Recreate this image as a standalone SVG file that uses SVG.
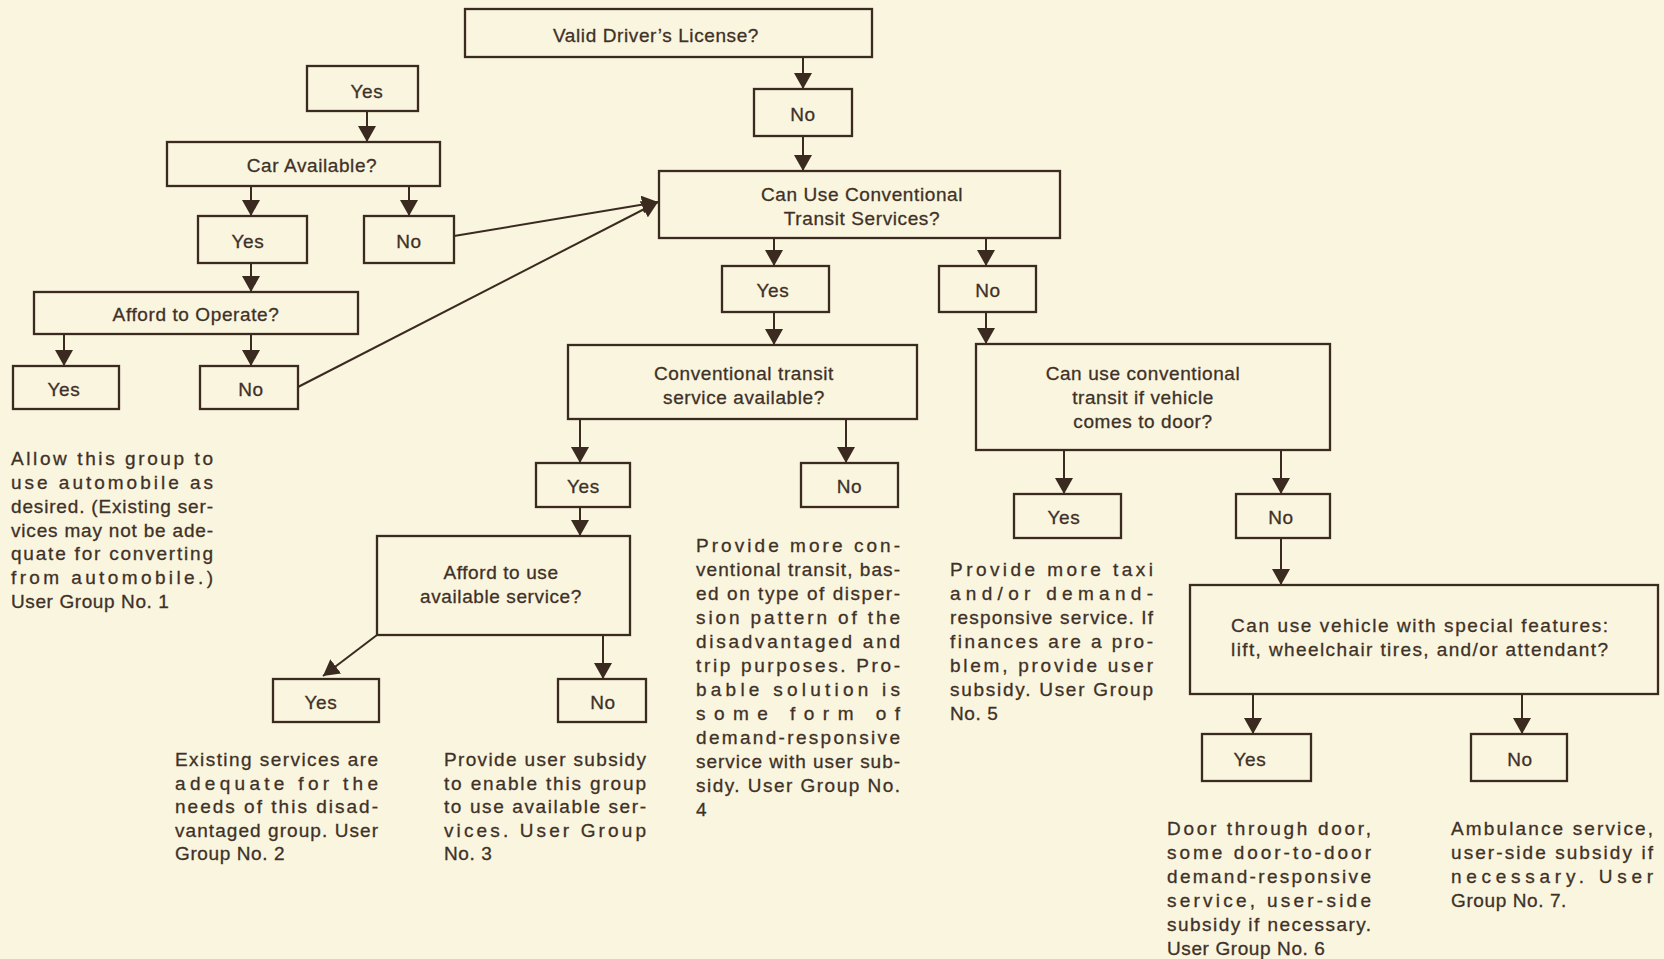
<svg xmlns="http://www.w3.org/2000/svg" width="1664" height="959" viewBox="0 0 1664 959">
  <style>
    .bg { fill: #f9f5df; }
    .box { fill: none; stroke: #3b2a1f; stroke-width: 2.3; }
    .lbl { font-family: "Liberation Sans", Arial, sans-serif; font-size: 19px; letter-spacing: 0.6px; fill: #3f3127; stroke: #3f3127; stroke-width: 0.3px; text-anchor: middle; }
    .note { font-family: "Liberation Sans", Arial, sans-serif; font-size: 19px; fill: #3f3127; stroke: #3f3127; stroke-width: 0.3px; }
    .note .last { letter-spacing: 0.6px; }
    .edge { fill: none; stroke: #3b2a1f; stroke-width: 2; }
  </style>
  <defs>
    <marker id="arrow" markerUnits="userSpaceOnUse" markerWidth="17" markerHeight="18" refX="16" refY="9" orient="auto">
      <path d="M0,0 L16,9 L0,18 Z" fill="#3b2a1f"/>
    </marker>
  </defs>

  <rect class="bg" x="0" y="0" width="1664" height="959"/>

  <!-- connectors -->
  <g id="connectors">
    <line class="edge" x1="803" y1="57" x2="803" y2="89" marker-end="url(#arrow)"/>
    <line class="edge" x1="803" y1="136" x2="803" y2="171" marker-end="url(#arrow)"/>
    <line class="edge" x1="367" y1="111" x2="367" y2="142" marker-end="url(#arrow)"/>
    <line class="edge" x1="251" y1="186" x2="251" y2="216" marker-end="url(#arrow)"/>
    <line class="edge" x1="409" y1="186" x2="409" y2="216" marker-end="url(#arrow)"/>
    <line class="edge" x1="251" y1="263" x2="251" y2="292" marker-end="url(#arrow)"/>
    <line class="edge" x1="64" y1="334" x2="64" y2="366" marker-end="url(#arrow)"/>
    <line class="edge" x1="251" y1="334" x2="251" y2="366" marker-end="url(#arrow)"/>
    <line class="edge" x1="454" y1="236" x2="658" y2="202" marker-end="url(#arrow)"/>
    <line class="edge" x1="298" y1="387" x2="658" y2="202" marker-end="url(#arrow)"/>
    <line class="edge" x1="774" y1="238" x2="774" y2="266" marker-end="url(#arrow)"/>
    <line class="edge" x1="986" y1="238" x2="986" y2="266" marker-end="url(#arrow)"/>
    <line class="edge" x1="774" y1="312" x2="774" y2="345" marker-end="url(#arrow)"/>
    <line class="edge" x1="986" y1="312" x2="986" y2="344" marker-end="url(#arrow)"/>
    <line class="edge" x1="580" y1="419" x2="580" y2="463" marker-end="url(#arrow)"/>
    <line class="edge" x1="846" y1="419" x2="846" y2="463" marker-end="url(#arrow)"/>
    <line class="edge" x1="580" y1="507" x2="580" y2="536" marker-end="url(#arrow)"/>
    <line class="edge" x1="377" y1="635" x2="323" y2="676" marker-end="url(#arrow)"/>
    <line class="edge" x1="603" y1="635" x2="603" y2="679" marker-end="url(#arrow)"/>
    <line class="edge" x1="1064" y1="450" x2="1064" y2="494" marker-end="url(#arrow)"/>
    <line class="edge" x1="1281" y1="450" x2="1281" y2="494" marker-end="url(#arrow)"/>
    <line class="edge" x1="1281" y1="538" x2="1281" y2="585" marker-end="url(#arrow)"/>
    <line class="edge" x1="1253" y1="694" x2="1253" y2="734" marker-end="url(#arrow)"/>
    <line class="edge" x1="1522" y1="694" x2="1522" y2="734" marker-end="url(#arrow)"/>
  </g>

  <!-- decision boxes and answers -->
  <g id="license">
    <rect class="box" x="465" y="9" width="407" height="48"/>
    <text class="lbl" x="656" y="42">Valid Driver’s License?</text>
  </g>
  <g id="license-no">
    <rect class="box" x="754" y="89" width="98" height="47"/>
    <text class="lbl" x="803" y="121">No</text>
  </g>
  <g id="license-yes">
    <rect class="box" x="307" y="66" width="111" height="45"/>
    <text class="lbl" x="367" y="98">Yes</text>
  </g>
  <g id="car">
    <rect class="box" x="167" y="142" width="273" height="44"/>
    <text class="lbl" x="312" y="172">Car Available?</text>
  </g>
  <g id="car-yes">
    <rect class="box" x="198" y="216" width="109" height="47"/>
    <text class="lbl" x="248" y="248">Yes</text>
  </g>
  <g id="car-no">
    <rect class="box" x="364" y="216" width="90" height="47"/>
    <text class="lbl" x="409" y="248">No</text>
  </g>
  <g id="operate">
    <rect class="box" x="34" y="292" width="324" height="42"/>
    <text class="lbl" x="196" y="321">Afford to Operate?</text>
  </g>
  <g id="operate-yes">
    <rect class="box" x="13" y="366" width="106" height="43"/>
    <text class="lbl" x="64" y="396">Yes</text>
  </g>
  <g id="operate-no">
    <rect class="box" x="200" y="366" width="98" height="43"/>
    <text class="lbl" x="251" y="396">No</text>
  </g>
  <g id="conventional">
    <rect class="box" x="659" y="171" width="401" height="67"/>
    <text class="lbl" x="862" y="201">Can Use Conventional</text>
    <text class="lbl" x="862" y="225">Transit Services?</text>
  </g>
  <g id="conventional-yes">
    <rect class="box" x="722" y="266" width="107" height="46"/>
    <text class="lbl" x="773" y="297">Yes</text>
  </g>
  <g id="conventional-no">
    <rect class="box" x="939" y="266" width="97" height="46"/>
    <text class="lbl" x="988" y="297">No</text>
  </g>
  <g id="available">
    <rect class="box" x="568" y="345" width="349" height="74"/>
    <text class="lbl" x="744" y="380">Conventional transit</text>
    <text class="lbl" x="744" y="404">service available?</text>
  </g>
  <g id="available-yes">
    <rect class="box" x="536" y="463" width="94" height="44"/>
    <text class="lbl" x="583.5" y="493">Yes</text>
  </g>
  <g id="available-no">
    <rect class="box" x="801" y="463" width="97" height="44"/>
    <text class="lbl" x="849.5" y="493">No</text>
  </g>
  <g id="afford">
    <rect class="box" x="377" y="536" width="253" height="99"/>
    <text class="lbl" x="501" y="579">Afford to use</text>
    <text class="lbl" x="501" y="603">available service?</text>
  </g>
  <g id="afford-yes">
    <rect class="box" x="273" y="679" width="106" height="43"/>
    <text class="lbl" x="321" y="709">Yes</text>
  </g>
  <g id="afford-no">
    <rect class="box" x="558" y="679" width="88" height="43"/>
    <text class="lbl" x="603" y="709">No</text>
  </g>
  <g id="door">
    <rect class="box" x="976" y="344" width="354" height="106"/>
    <text class="lbl" x="1143" y="380">Can use conventional</text>
    <text class="lbl" x="1143" y="404">transit if vehicle</text>
    <text class="lbl" x="1143" y="428">comes to door?</text>
  </g>
  <g id="door-yes">
    <rect class="box" x="1014" y="494" width="107" height="44"/>
    <text class="lbl" x="1064" y="524">Yes</text>
  </g>
  <g id="door-no">
    <rect class="box" x="1236" y="494" width="94" height="44"/>
    <text class="lbl" x="1281" y="524">No</text>
  </g>
  <g id="special">
    <rect class="box" x="1190" y="585" width="468" height="109"/>
    <text class="note" x="1231" y="632" textLength="377" lengthAdjust="spacing">Can use vehicle with special features:</text>
    <text class="note" x="1231" y="656" textLength="377" lengthAdjust="spacing">lift, wheelchair tires, and/or attendant?</text>
  </g>
  <g id="special-yes">
    <rect class="box" x="1202" y="734" width="109" height="47"/>
    <text class="lbl" x="1250" y="766">Yes</text>
  </g>
  <g id="special-no">
    <rect class="box" x="1471" y="734" width="96" height="47"/>
    <text class="lbl" x="1520" y="766">No</text>
  </g>

  <!-- outcome notes, justified -->
  <g id="group1" class="note">
    <text x="11" y="465" textLength="202" lengthAdjust="spacing">Allow this group to</text>
    <text x="11" y="489" textLength="202" lengthAdjust="spacing">use automobile as</text>
    <text x="11" y="513" textLength="202" lengthAdjust="spacing">desired. (Existing ser-</text>
    <text x="11" y="537" textLength="202" lengthAdjust="spacing">vices may not be ade-</text>
    <text x="11" y="560" textLength="202" lengthAdjust="spacing">quate for converting</text>
    <text x="11" y="584" textLength="202" lengthAdjust="spacing">from automobile.)</text>
    <text class="last" x="11" y="608">User Group No. 1</text>
  </g>
  <g id="group2" class="note">
    <text x="175" y="766" textLength="203" lengthAdjust="spacing">Existing services are</text>
    <text x="175" y="790" textLength="203" lengthAdjust="spacing">adequate for the</text>
    <text x="175" y="813" textLength="203" lengthAdjust="spacing">needs of this disad-</text>
    <text x="175" y="837" textLength="203" lengthAdjust="spacing">vantaged group. User</text>
    <text class="last" x="175" y="860">Group No. 2</text>
  </g>
  <g id="group3" class="note">
    <text x="444" y="766" textLength="202" lengthAdjust="spacing">Provide user subsidy</text>
    <text x="444" y="790" textLength="202" lengthAdjust="spacing">to enable this group</text>
    <text x="444" y="813" textLength="202" lengthAdjust="spacing">to use available ser-</text>
    <text x="444" y="837" textLength="202" lengthAdjust="spacing">vices. User Group</text>
    <text class="last" x="444" y="860">No. 3</text>
  </g>
  <g id="group4" class="note">
    <text x="696" y="552" textLength="204" lengthAdjust="spacing">Provide more con-</text>
    <text x="696" y="576" textLength="204" lengthAdjust="spacing">ventional transit, bas-</text>
    <text x="696" y="600" textLength="204" lengthAdjust="spacing">ed on type of disper-</text>
    <text x="696" y="624" textLength="204" lengthAdjust="spacing">sion pattern of the</text>
    <text x="696" y="648" textLength="204" lengthAdjust="spacing">disadvantaged and</text>
    <text x="696" y="672" textLength="204" lengthAdjust="spacing">trip purposes. Pro-</text>
    <text x="696" y="696" textLength="204" lengthAdjust="spacing">bable solution is</text>
    <text x="696" y="720" textLength="204" lengthAdjust="spacing">some form of</text>
    <text x="696" y="744" textLength="204" lengthAdjust="spacing">demand-responsive</text>
    <text x="696" y="768" textLength="204" lengthAdjust="spacing">service with user sub-</text>
    <text x="696" y="792" textLength="204" lengthAdjust="spacing">sidy. User Group No.</text>
    <text class="last" x="696" y="816">4</text>
  </g>
  <g id="group5" class="note">
    <text x="950" y="576" textLength="203" lengthAdjust="spacing">Provide more taxi</text>
    <text x="950" y="600" textLength="203" lengthAdjust="spacing">and/or demand-</text>
    <text x="950" y="624" textLength="203" lengthAdjust="spacing">responsive service. If</text>
    <text x="950" y="648" textLength="203" lengthAdjust="spacing">finances are a pro-</text>
    <text x="950" y="672" textLength="203" lengthAdjust="spacing">blem, provide user</text>
    <text x="950" y="696" textLength="203" lengthAdjust="spacing">subsidy. User Group</text>
    <text class="last" x="950" y="720">No. 5</text>
  </g>
  <g id="group6" class="note">
    <text x="1167" y="835" textLength="204" lengthAdjust="spacing">Door through door,</text>
    <text x="1167" y="859" textLength="204" lengthAdjust="spacing">some door-to-door</text>
    <text x="1167" y="883" textLength="204" lengthAdjust="spacing">demand-responsive</text>
    <text x="1167" y="907" textLength="204" lengthAdjust="spacing">service, user-side</text>
    <text x="1167" y="931" textLength="204" lengthAdjust="spacing">subsidy if necessary.</text>
    <text class="last" x="1167" y="955">User Group No. 6</text>
  </g>
  <g id="group7" class="note">
    <text x="1451" y="835" textLength="202" lengthAdjust="spacing">Ambulance service,</text>
    <text x="1451" y="859" textLength="202" lengthAdjust="spacing">user-side subsidy if</text>
    <text x="1451" y="883" textLength="202" lengthAdjust="spacing">necessary. User</text>
    <text class="last" x="1451" y="907">Group No. 7.</text>
  </g>
</svg>
